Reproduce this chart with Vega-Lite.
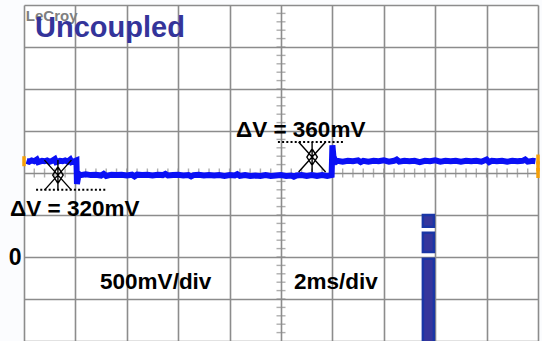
{
  "$schema": "https://vega.github.io/schema/vega-lite/v6.json",
  "width": 514,
  "height": 336,
  "autosize": {"type": "none"},
  "padding": {"left": 24, "top": 5, "right": 4, "bottom": 0},
  "background": "#fbfcfe",
  "view": {"stroke": null, "fill": "white"},
  "config": {
    "axis": {"gridColor": "#8c8c8c", "gridWidth": 1.6, "gridOpacity": 1, "domain": false, "ticks": false, "title": null}
  },
  "datasets": {
    "trace": [
      {"t": -9.9, "v": 1.145}, {"t": -9.8, "v": 1.135}, {"t": -9.7, "v": 1.15}, {"t": -9.6, "v": 1.14},
      {"t": -9.5, "v": 1.16}, {"t": -9.45, "v": 1.13}, {"t": -9.3, "v": 1.145}, {"t": -9.2, "v": 1.14},
      {"t": -9.1, "v": 1.15}, {"t": -9.0, "v": 1.135}, {"t": -8.9, "v": 1.145}, {"t": -8.8, "v": 1.165},
      {"t": -8.75, "v": 1.13}, {"t": -8.6, "v": 1.145}, {"t": -8.5, "v": 1.14}, {"t": -8.4, "v": 1.15},
      {"t": -8.3, "v": 1.135}, {"t": -8.2, "v": 1.16}, {"t": -8.15, "v": 1.13}, {"t": -8.0, "v": 1.145},
      {"t": -7.96, "v": 1.15}, {"t": -7.94, "v": 0.87}, {"t": -7.9, "v": 0.94}, {"t": -7.85, "v": 0.985},
      {"t": -7.8, "v": 0.975}, {"t": -7.6, "v": 0.985}, {"t": -7.4, "v": 0.975}, {"t": -7.2, "v": 0.98},
      {"t": -7.0, "v": 0.97}, {"t": -6.9, "v": 0.99}, {"t": -6.8, "v": 0.965}, {"t": -6.6, "v": 0.98},
      {"t": -6.4, "v": 0.975}, {"t": -6.2, "v": 0.98}, {"t": -6.0, "v": 0.97}, {"t": -5.8, "v": 0.98},
      {"t": -5.7, "v": 0.96}, {"t": -5.6, "v": 0.98}, {"t": -5.4, "v": 0.975}, {"t": -5.2, "v": 0.98},
      {"t": -5.0, "v": 0.97}, {"t": -4.8, "v": 0.98}, {"t": -4.6, "v": 0.975}, {"t": -4.5, "v": 0.99},
      {"t": -4.4, "v": 0.97}, {"t": -4.2, "v": 0.975}, {"t": -4.0, "v": 0.98}, {"t": -3.8, "v": 0.97},
      {"t": -3.6, "v": 0.975}, {"t": -3.5, "v": 0.96}, {"t": -3.4, "v": 0.975}, {"t": -3.2, "v": 0.98},
      {"t": -3.0, "v": 0.97}, {"t": -2.8, "v": 0.975}, {"t": -2.6, "v": 0.97}, {"t": -2.4, "v": 0.975},
      {"t": -2.2, "v": 0.965}, {"t": -2.0, "v": 0.975}, {"t": -1.8, "v": 0.97}, {"t": -1.7, "v": 0.985},
      {"t": -1.6, "v": 0.965}, {"t": -1.4, "v": 0.975}, {"t": -1.2, "v": 0.965}, {"t": -1.0, "v": 0.97},
      {"t": -0.8, "v": 0.965}, {"t": -0.6, "v": 0.975}, {"t": -0.4, "v": 0.965}, {"t": -0.2, "v": 0.97},
      {"t": 0.0, "v": 0.975}, {"t": 0.2, "v": 0.965}, {"t": 0.4, "v": 0.97}, {"t": 0.5, "v": 0.955},
      {"t": 0.6, "v": 0.97}, {"t": 0.8, "v": 0.975}, {"t": 1.0, "v": 0.965}, {"t": 1.2, "v": 0.975},
      {"t": 1.4, "v": 0.965}, {"t": 1.6, "v": 0.975}, {"t": 1.8, "v": 0.965}, {"t": 1.97, "v": 0.975},
      {"t": 2.0, "v": 1.33}, {"t": 2.04, "v": 1.2}, {"t": 2.1, "v": 1.15}, {"t": 2.15, "v": 1.135},
      {"t": 2.2, "v": 1.145}, {"t": 2.4, "v": 1.135}, {"t": 2.6, "v": 1.145}, {"t": 2.8, "v": 1.14},
      {"t": 3.0, "v": 1.15}, {"t": 3.1, "v": 1.13}, {"t": 3.2, "v": 1.145}, {"t": 3.4, "v": 1.135},
      {"t": 3.6, "v": 1.145}, {"t": 3.8, "v": 1.14}, {"t": 4.0, "v": 1.15}, {"t": 4.2, "v": 1.135},
      {"t": 4.4, "v": 1.145}, {"t": 4.5, "v": 1.16}, {"t": 4.6, "v": 1.135}, {"t": 4.8, "v": 1.145},
      {"t": 5.0, "v": 1.14}, {"t": 5.2, "v": 1.145}, {"t": 5.4, "v": 1.13}, {"t": 5.6, "v": 1.145},
      {"t": 5.8, "v": 1.14}, {"t": 6.0, "v": 1.15}, {"t": 6.2, "v": 1.135}, {"t": 6.4, "v": 1.145},
      {"t": 6.6, "v": 1.14}, {"t": 6.8, "v": 1.145}, {"t": 7.0, "v": 1.135}, {"t": 7.2, "v": 1.145},
      {"t": 7.4, "v": 1.14}, {"t": 7.6, "v": 1.145}, {"t": 7.8, "v": 1.135}, {"t": 8.0, "v": 1.16},
      {"t": 8.1, "v": 1.13}, {"t": 8.2, "v": 1.145}, {"t": 8.4, "v": 1.14}, {"t": 8.6, "v": 1.145},
      {"t": 8.8, "v": 1.135}, {"t": 9.0, "v": 1.145}, {"t": 9.2, "v": 1.14}, {"t": 9.4, "v": 1.145},
      {"t": 9.5, "v": 1.16}, {"t": 9.6, "v": 1.135}, {"t": 9.8, "v": 1.145}, {"t": 9.9, "v": 1.14}
    ],
    "xticks": [
      {"t": -9.6}, {"t": -9.2}, {"t": -8.8}, {"t": -8.4}, {"t": -8.0}, {"t": -7.6}, {"t": -7.2}, {"t": -6.8},
      {"t": -6.4}, {"t": -6.0}, {"t": -5.6}, {"t": -5.2}, {"t": -4.8}, {"t": -4.4}, {"t": -4.0}, {"t": -3.6},
      {"t": -3.2}, {"t": -2.8}, {"t": -2.4}, {"t": -2.0}, {"t": -1.6}, {"t": -1.2}, {"t": -0.8}, {"t": -0.4},
      {"t": 0.4}, {"t": 0.8}, {"t": 1.2}, {"t": 1.6}, {"t": 2.0}, {"t": 2.4}, {"t": 2.8}, {"t": 3.2},
      {"t": 3.6}, {"t": 4.0}, {"t": 4.4}, {"t": 4.8}, {"t": 5.2}, {"t": 5.6}, {"t": 6.0}, {"t": 6.4},
      {"t": 6.8}, {"t": 7.2}, {"t": 7.6}, {"t": 8.0}, {"t": 8.4}, {"t": 8.8}, {"t": 9.2}, {"t": 9.6}
    ],
    "yticks": [
      {"v": -0.9}, {"v": -0.8}, {"v": -0.7}, {"v": -0.6}, {"v": -0.5}, {"v": -0.4}, {"v": -0.3}, {"v": -0.2},
      {"v": -0.1}, {"v": 0.0}, {"v": 0.1}, {"v": 0.2}, {"v": 0.3}, {"v": 0.4}, {"v": 0.5}, {"v": 0.6},
      {"v": 0.7}, {"v": 0.8}, {"v": 0.9}, {"v": 1.1}, {"v": 1.2}, {"v": 1.3}, {"v": 1.4}, {"v": 1.5},
      {"v": 1.6}, {"v": 1.7}, {"v": 1.8}, {"v": 1.9}, {"v": 2.0}, {"v": 2.1}, {"v": 2.2}, {"v": 2.3},
      {"v": 2.4}, {"v": 2.5}, {"v": 2.6}, {"v": 2.7}, {"v": 2.8}, {"v": 2.9}
    ]
  },
  "layer": [
    {
      "data": {"values": [{"t": 0, "v": 1}]},
      "mark": {"type": "point", "opacity": 0},
      "encoding": {
        "x": {"field": "t", "type": "quantitative", "scale": {"domain": [-10, 10], "nice": false, "zero": false},
              "axis": {"values": [-10, -8, -6, -4, -2, 0, 2, 4, 6, 8, 10], "labels": false, "grid": true}},
        "y": {"field": "v", "type": "quantitative", "scale": {"domain": [-1, 3], "nice": false, "zero": false},
              "axis": {"values": [-1, -0.5, 0, 0.5, 1, 1.5, 2, 2.5, 3], "grid": true,
                       "labelExpr": "datum.value == 0 ? '0' : ''", "labelFont": "Liberation Sans",
                       "labelFontSize": 23, "labelFontWeight": "bold", "labelColor": "black", "labelPadding": 3}}
      }
    },
    {
      "data": {"name": "xticks"},
      "transform": [{"calculate": "1", "as": "v"}],
      "mark": {"type": "tick", "orient": "vertical", "size": 9, "thickness": 1.4, "color": "#8c8c8c"},
      "encoding": {"x": {"field": "t", "type": "quantitative"}, "y": {"field": "v", "type": "quantitative"}}
    },
    {
      "data": {"name": "yticks"},
      "transform": [{"calculate": "0", "as": "t"}],
      "mark": {"type": "tick", "orient": "horizontal", "size": 9, "thickness": 1.4, "color": "#8c8c8c"},
      "encoding": {"x": {"field": "t", "type": "quantitative"}, "y": {"field": "v", "type": "quantitative"}}
    },
    {
      "data": {"values": [
        {"t0": 5.52, "t1": 5.95, "v0": 0.5, "v1": 0.36},
        {"t0": 5.52, "t1": 5.95, "v0": 0.29, "v1": 0.06},
        {"t0": 5.52, "t1": 5.95, "v0": -0.02, "v1": -1.05}
      ]},
      "mark": {"type": "rect", "fill": "#36369c", "stroke": "#1a36a6", "strokeWidth": 2.5},
      "encoding": {
        "x": {"field": "t0", "type": "quantitative"}, "x2": {"field": "t1"},
        "y": {"field": "v0", "type": "quantitative"}, "y2": {"field": "v1"}
      }
    },
    {
      "data": {"values": [
        {"t0": -9.53, "t1": -6.77, "v": 0.80},
        {"t0": -0.12, "t1": 2.49, "v": 1.37}
      ]},
      "mark": {"type": "rule", "color": "black", "strokeWidth": 2, "strokeDash": [2, 2.2]},
      "encoding": {
        "x": {"field": "t0", "type": "quantitative"}, "x2": {"field": "t1"},
        "y": {"field": "v", "type": "quantitative"}
      }
    },
    {
      "data": {"name": "trace"},
      "mark": {"type": "line", "color": "#0a10f5", "strokeWidth": 6, "strokeJoin": "miter"},
      "encoding": {"x": {"field": "t", "type": "quantitative"}, "y": {"field": "v", "type": "quantitative"}}
    },
    {
      "data": {"values": [{"t": -10, "v": 1.14}, {"t": 10, "v": 1.16}, {"t": 10, "v": 1.08}, {"t": 10, "v": 1.0}]},
      "mark": {"type": "point", "shape": "M-0.35,-1H0.35V1H-0.35Z", "filled": true, "color": "#f5a00a", "opacity": 1, "size": 100},
      "encoding": {"x": {"field": "t", "type": "quantitative"}, "y": {"field": "v", "type": "quantitative"}}
    },
    {
      "data": {"values": [{"t": -8.68, "v": 0.975}, {"t": 1.21, "v": 1.19}]},
      "mark": {"type": "point", "shape": "M-0.9,-1L0.9,1M0.9,-1L-0.9,1M0,-1L0,1M-0.35,0L0,-0.55L0.35,0L0,0.55Z", "filled": false, "color": "black", "strokeWidth": 1.4, "opacity": 1, "size": 900},
      "encoding": {"x": {"field": "t", "type": "quantitative"}, "y": {"field": "v", "type": "quantitative"}}
    },
    {
      "data": {"values": [
        {"t": -1.75, "v": 1.43, "label": "ΔV = 360mV"},
        {"t": -10.54, "v": 0.488, "label": "ΔV = 320mV"},
        {"t": -7.04, "v": -0.381, "label": "500mV/div"},
        {"t": 0.506, "v": -0.381, "label": "2ms/div"}
      ]},
      "mark": {"type": "text", "align": "left", "baseline": "alphabetic", "font": "Liberation Sans", "fontWeight": "bold", "fontSize": 22.5, "color": "black"},
      "encoding": {"x": {"field": "t", "type": "quantitative"}, "y": {"field": "v", "type": "quantitative"}, "text": {"field": "label"}}
    },
    {
      "data": {"values": [{"t": -9.93, "v": 2.81, "label": "LeCroy"}]},
      "mark": {"type": "text", "align": "left", "baseline": "alphabetic", "font": "Liberation Sans", "fontWeight": "bold", "fontSize": 15, "color": "#7f7f7f"},
      "encoding": {"x": {"field": "t", "type": "quantitative"}, "y": {"field": "v", "type": "quantitative"}, "text": {"field": "label"}}
    },
    {
      "data": {"values": [{"t": -9.57, "v": 2.62, "label": "Uncoupled"}]},
      "mark": {"type": "text", "align": "left", "baseline": "alphabetic", "font": "Liberation Sans", "fontWeight": "bold", "fontSize": 29, "color": "#34349a"},
      "encoding": {"x": {"field": "t", "type": "quantitative"}, "y": {"field": "v", "type": "quantitative"}, "text": {"field": "label"}}
    }
  ]
}
